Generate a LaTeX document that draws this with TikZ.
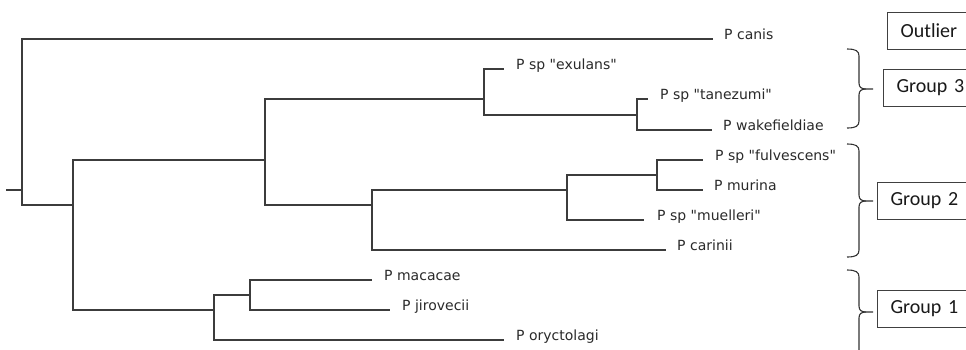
\documentclass[tikz,border=0pt]{standalone}
\usepackage{fontspec}
\newfontfamily\leaffont{DejaVu Sans}
\newfontfamily\boxfont{Carlito}
\definecolor{treeline}{HTML}{3C3C3C}
\definecolor{labeltext}{HTML}{2A2A2A}
\newcommand\grpbrace[3]{%
  \draw[bracestyle] (847,#1) .. controls (856,#1) and (859,{#1+2}) .. (859,{#1+7})
    -- (859,{#2-6}) .. controls (859,{#2-2}) and (861,#2) .. (866,#2) -- (873,#2);
  \draw[bracestyle] (866,#2) .. controls (861,#2) and (859,{#2+2}) .. (859,{#2+6})
    -- (859,{#3-7}) .. controls (859,{#3-2}) and (856,#3) .. (847,#3);
}
\begin{document}
\begin{tikzpicture}[x=1pt,y=-1pt,
  branch/.style={draw=treeline,line width=1.8pt,line cap=rect},
  leaf/.style={anchor=base west,inner sep=0pt,text=labeltext,font=\leaffont\fontsize{14}{16}\selectfont},
  bracestyle/.style={draw=black!80,line width=1.1pt},
  groupbox/.style={draw=black!75,line width=1.1pt,anchor=west,inner xsep=13pt,inner ysep=0pt,
    text width=72pt,align=left,minimum height=37pt,font=\boxfont\fontsize{20}{24}\selectfont,text=black!90}]
\useasboundingbox[fill=white] (0,0) rectangle (966,349);

% internal nodes (x of vertical bar, y of incoming branch)
\coordinate (stub) at (7,190);
\coordinate (rt) at (22,190);
\coordinate (A) at (73,205);
\coordinate (B) at (265,160);
\coordinate (D) at (484,99);
\coordinate (F) at (637,115);
\coordinate (E) at (372,205);
\coordinate (G) at (567,190);
\coordinate (H) at (657,175);
\coordinate (C) at (214,310);
\coordinate (I) at (250,295);

% leaves
\node[leaf] (canis) at (724,39) {P canis};
\node[leaf] (exulans) at (516,69) {P sp "exulans"};
\node[leaf] (tanezumi) at (660,99) {P sp "tanezumi"};
\node[leaf] (wakefieldiae) at (723,130) {P wakefieldiae};
\node[leaf] (fulvescens) at (715,160) {P sp "fulvescens"};
\node[leaf] (murina) at (714,190) {P murina};
\node[leaf] (muelleri) at (657,220) {P sp "muelleri"};
\node[leaf] (carinii) at (677,250) {P carinii};
\node[leaf] (macacae) at (384,280) {P macacae};
\node[leaf] (jirovecii) at (402,310) {P jirovecii};
\node[leaf] (oryctolagi) at (516,340) {P oryctolagi};

% branches
\draw[branch] (stub) -- (rt);
\draw[branch] (rt) |- ([xshift=-12pt]canis.base west);
\draw[branch] (rt) |- (A);
\draw[branch] (A) |- (B);
\draw[branch] (A) |- (C);
\draw[branch] (B) |- (D);
\draw[branch] (B) |- (E);
\draw[branch] (D) |- ([xshift=-13pt]exulans.base west);
\draw[branch] (D) |- (F);
\draw[branch] (F) |- ([xshift=-13pt]tanezumi.base west);
\draw[branch] (F) |- ([xshift=-12pt]wakefieldiae.base west);
\draw[branch] (E) |- (G);
\draw[branch] (E) |- ([xshift=-12pt]carinii.base west);
\draw[branch] (G) |- (H);
\draw[branch] (G) |- ([xshift=-14pt]muelleri.base west);
\draw[branch] (H) |- ([xshift=-13pt]fulvescens.base west);
\draw[branch] (H) |- ([xshift=-12pt]murina.base west);
\draw[branch] (C) |- (I);
\draw[branch] (C) |- ([xshift=-13pt]oryctolagi.base west);
\draw[branch] (I) |- ([xshift=-13pt]macacae.base west);
\draw[branch] (I) |- ([xshift=-13pt]jirovecii.base west);

% braces
\grpbrace{49}{89}{128}
\grpbrace{144}{201}{257}
\grpbrace{270}{312}{360}

% group boxes
\node[groupbox] (outlier) at (887,31) {Outlier};
\node[groupbox] (g3) at (883,88) {Group 3};
\node[groupbox] (g2) at (877,201) {Group 2};
\node[groupbox] (g1) at (877,309) {Group 1};
\end{tikzpicture}
\end{document}
